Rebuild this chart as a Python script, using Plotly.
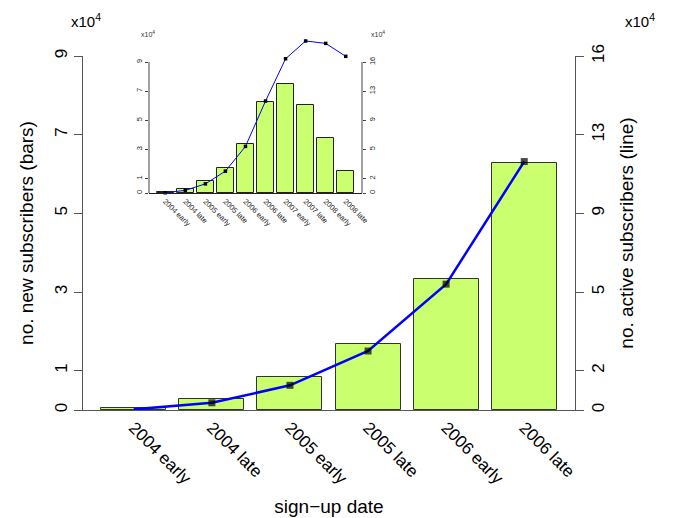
import plotly.graph_objects as go

# ---- data (values in units of 10^4) ----
periods = ["2004 early", "2004 late", "2005 early", "2005 late", "2006 early",
           "2006 late", "2007 early", "2007 late", "2008 early", "2008 late"]
new_subs = [0.05, 0.28, 0.83, 1.69, 3.34, 6.27, 7.49, 6.04, 3.78, 1.51]
active_subs = [0.03, 0.33, 1.13, 2.70, 5.76, 11.37, 16.6, 18.8, 18.5, 16.9]
left_ticks = [0, 1, 3, 5, 7, 9]
right_ticklabels = ["0", "2", "5", "9", "13", "16"]
n_main = 6

OFF = 8              # default page body margin
W, H = 673 - OFF, 518 - OFF
SCALE = 1.8          # right axis units per left axis unit
BAR_COLOR = "#CAFF70"
AXC = "#555555"
FONT = "Liberation Sans, Arial, sans-serif"


def px_x(p):
    return (p - OFF) / W


def px_y(p):
    return 1 - (p - OFF) / H


def centers(n):
    return [0.7 + 1.2 * i for i in range(n)]


fig = go.Figure()

# ---------- main chart ----------
mc = centers(n_main)
fig.add_trace(go.Bar(x=mc, y=new_subs[:n_main], width=1.0, xaxis="x", yaxis="y",
                     marker=dict(color=BAR_COLOR, line=dict(color="#333333", width=1)),
                     showlegend=False))
msizes = [0] + [7] * (n_main - 1)
fig.add_trace(go.Scatter(x=mc, y=active_subs[:n_main], xaxis="x", yaxis="y2",
                         mode="lines+markers",
                         line=dict(color="#0000FF", width=2.5),
                         marker=dict(symbol="square", size=msizes, color="black",
                                     line=dict(width=0)),
                         cliponaxis=False, showlegend=False))

# ---------- inset ----------
ic = centers(len(periods))
fig.add_trace(go.Bar(x=ic, y=new_subs, width=1.0, xaxis="x2", yaxis="y3",
                     marker=dict(color=BAR_COLOR, line=dict(color="#222222", width=1)),
                     showlegend=False))
fig.add_trace(go.Scatter(x=ic, y=active_subs, xaxis="x2", yaxis="y4",
                         mode="lines+markers",
                         line=dict(color="#0000FF", width=1),
                         marker=dict(symbol="square", size=3.5, color="black",
                                     line=dict(width=0)),
                         cliponaxis=False, showlegend=False))

# main geometry (pixels in the 673x518 window)
mx0, mx1 = 83, 575
my0, my9 = 410, 56
# inset geometry
ix0, ix1 = 149, 362
iy0, iy9 = 193, 62
iytop = 35
inset_top = 9 * (iy0 - iytop) / (iy0 - iy9)

tickfont_main = dict(family=FONT, size=17, color="black")
tickfont_in = dict(family=FONT, size=7.5, color="#222222")

fig.update_layout(
    width=W, height=H,
    margin=dict(l=0, r=0, t=0, b=0),
    paper_bgcolor="white", plot_bgcolor="rgba(0,0,0,0)",
    font=dict(family=FONT, color="black"),
    bargap=0,
    xaxis=dict(domain=[px_x(mx0), px_x(mx1)], range=[-0.08, 7.48], anchor="y",
               tickvals=mc, ticktext=periods[:n_main], tickangle=45,
               tickfont=tickfont_main, ticks="", showline=True, linecolor=AXC,
               linewidth=1, showgrid=False, zeroline=False, automargin=False,
               title=dict(text="sign\u2212up date", font=dict(size=19), standoff=12)),
    yaxis=dict(domain=[px_y(my0), px_y(my9)], range=[0, 9], anchor="x",
               tickvals=left_ticks, ticktext=[str(v) for v in left_ticks],
               tickangle=-90, tickfont=tickfont_main, ticks="outside", ticklen=8,
               tickcolor=AXC, showline=True, linecolor=AXC, linewidth=1,
               showgrid=False, zeroline=False, automargin=False,
               title=dict(text="no. new subscribers (bars)", font=dict(size=19), standoff=13)),
    yaxis2=dict(domain=[px_y(my0), px_y(my9)], range=[0, 9 * SCALE], anchor="x",
                overlaying="y", side="right",
                tickvals=[v * SCALE for v in left_ticks], ticktext=right_ticklabels,
                tickangle=-90, tickfont=tickfont_main, ticks="outside", ticklen=8,
                tickcolor=AXC, showline=True, linecolor=AXC, linewidth=1,
                showgrid=False, zeroline=False, automargin=False,
                title=dict(text="no. active subscribers (line)", font=dict(size=19), standoff=12)),
    xaxis2=dict(domain=[px_x(ix0), px_x(ix1)], range=[-0.272, 12.472], anchor="y3",
                tickvals=ic, ticktext=periods, tickangle=45, tickfont=tickfont_in,
                ticks="", showline=True, linecolor="#222222", linewidth=1,
                showgrid=False, zeroline=False, automargin=False),
    yaxis3=dict(domain=[px_y(iy0), px_y(iytop)], range=[0, inset_top], anchor="x2",
                tickvals=left_ticks, ticktext=[str(v) for v in left_ticks],
                tickangle=-90, tickfont=tickfont_in, ticks="outside", ticklen=3,
                tickcolor="#444444", showline=False, showgrid=False, zeroline=False,
                automargin=False),
    yaxis4=dict(domain=[px_y(iy0), px_y(iytop)], range=[0, inset_top * SCALE], anchor="x2",
                overlaying="y3", side="right",
                tickvals=[v * SCALE for v in left_ticks], ticktext=right_ticklabels,
                tickangle=-90, tickfont=tickfont_in, ticks="outside", ticklen=3,
                tickcolor="#444444", showline=False, showgrid=False, zeroline=False,
                automargin=False),
)

# inset vertical axis lines only spanning 0..9
for xr in (0, 1):
    fig.add_shape(type="line", xref="x2 domain", yref="y3", x0=xr, x1=xr, y0=0, y1=9,
                  line=dict(color="#444444", width=1))

# x10^4 multipliers
for xp, yp, sz, col in [(86, 20, 15, "black"), (640, 20, 15, "black"),
                        (148, 34, 7, "#333333"), (378, 34, 7, "#333333")]:
    fig.add_annotation(x=px_x(xp), y=px_y(yp), xref="paper", yref="paper",
                       text="x10<sup>4</sup>", showarrow=False,
                       font=dict(size=sz, family=FONT, color=col),
                       xanchor="center", yanchor="middle")

fig.write_html("out.html")
